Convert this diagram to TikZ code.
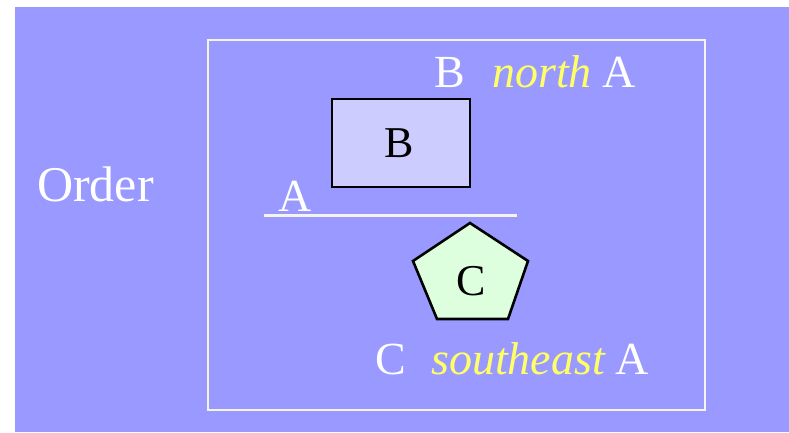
\documentclass[tikz,border=0pt]{standalone}
\usepackage{fontspec}
\setmainfont{Liberation Serif}
\definecolor{bgpurple}{HTML}{9999FF}
\definecolor{boxfill}{HTML}{CCCCFF}
\definecolor{pentfill}{HTML}{DDFFDD}
\definecolor{labyellow}{HTML}{FFFF66}
\definecolor{linecream}{HTML}{F4F4E8}
\begin{document}
\begin{tikzpicture}[x=1pt,y=-1pt,
  lab/.style={inner sep=0pt,anchor=base west,text=white,font=\fontsize{46}{54}\selectfont},
  ylab/.style={lab,text=labyellow,font=\fontsize{46}{54}\selectfont\itshape},
  shapetext/.style={inner sep=0pt,font=\fontsize{44}{52}\selectfont,text=black}]
\useasboundingbox (0,0) rectangle (789,432);
\fill[white] (0,0) rectangle (789,432);
\fill[bgpurple] (15,7) rectangle (789,432);
\draw[linecream,line width=2.2pt] (208,40) rectangle (705,410);
% left title
\node[lab,font=\fontsize{50}{58}\selectfont] (order) at (37,201) {Order};
% B box
\draw[black,line width=2.6pt,fill=boxfill] (332,99) rectangle (470,187);
\node[shapetext] (b) at (399,143) {B};
% horizontal line with A
\coordinate (l1) at (264,215.5);
\coordinate (l2) at (517,215.5);
\draw[linecream,line width=2.4pt] (l1) -- (l2);
\node[lab] (a) at (278,211) {A};
% top label
\node[lab] (bt) at (434,87) {B};
\node[ylab] (north) at (492,87) {north};
\node[lab] (at) at (602,87) {A};
% pentagon
\draw[black,line width=2.6pt,fill=pentfill,line join=miter]
  (470,223) -- (528,261) -- (508,319) -- (437,319) -- (413,261) -- cycle;
\node[shapetext] (c) at (471,281) {C};
% bottom label
\node[lab] (cb) at (375,374) {C};
\node[ylab] (se) at (431,374) {southeast};
\node[lab] (ab) at (615,374) {A};
\end{tikzpicture}
\end{document}
